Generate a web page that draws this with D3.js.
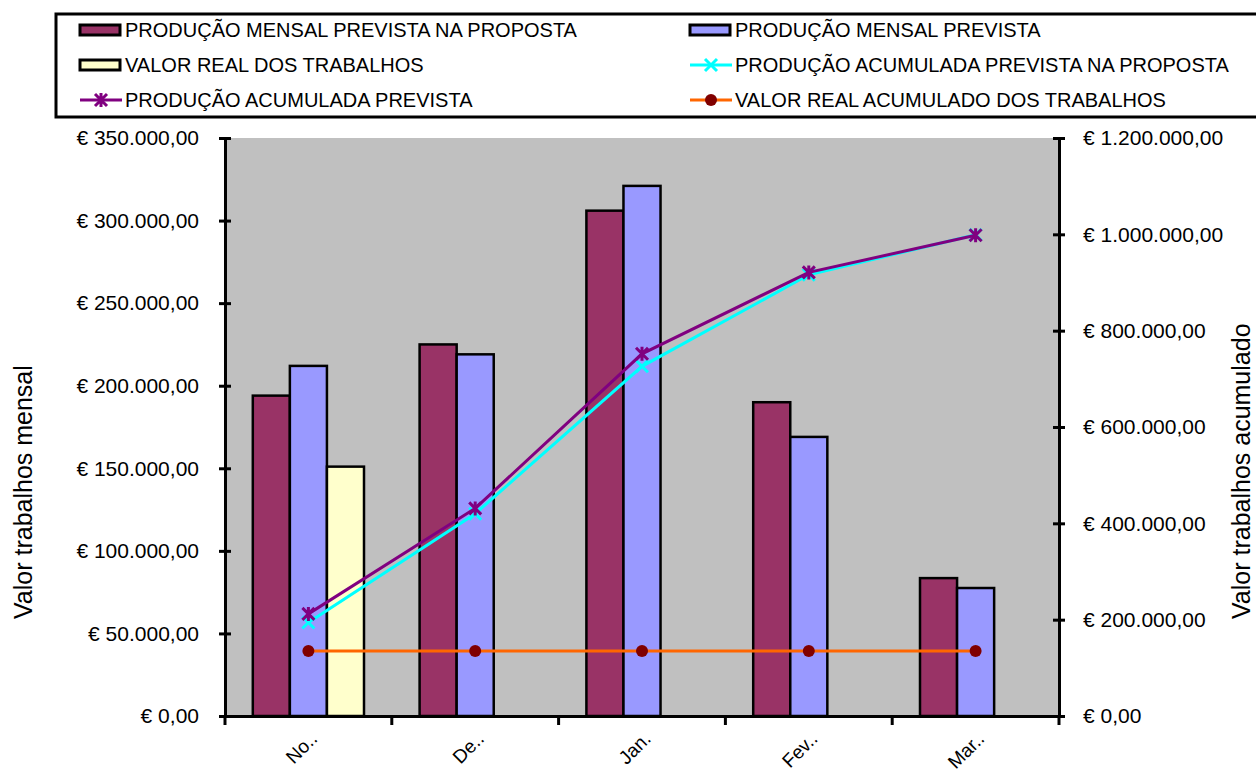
<!DOCTYPE html>
<html lang="pt">
<head>
<meta charset="utf-8">
<script src="https://cdn.jsdelivr.net/npm/d3@7"></script>
<style>
  html, body { margin: 0; padding: 0; background: #fff; }
  svg { display: block; font-family: "Liberation Sans", Arial, sans-serif; }
</style>
</head>
<body>
<svg id="chart" width="1256" height="774"></svg>
<script>
// Dados
const MESES = ["No..", "De..", "Jan.", "Fev..", "Mar.."];
const MENSAL_PROPOSTA = [194000, 225000, 306000, 190000, 83500];
const MENSAL_PREVISTA = [212000, 219000, 321000, 169000, 77500];
const VALOR_REAL = [151000, null, null, null, null];
const ACUM_PROPOSTA = [194000, 420000, 726000, 916000, 999000];
const ACUM_PREVISTA = [212000, 431000, 752000, 921000, 998000];
const ACUM_REAL = [135000, 135000, 135000, 135000, 135000];
const TICKS_ESQ = [0, 50000, 100000, 150000, 200000, 250000, 300000, 350000];
const TICKS_DIR = [0, 200000, 400000, 600000, 800000, 1000000, 1200000];

const layout = {
  left: 225, right: 1059, top: 138, bottom: 716,
  tickFont: 21, legendFont: 20, titleFont: 25
};

const svg = d3.select("#chart");

// Formato monetário português: € 350.000,00
const loc = d3.formatLocale({
  decimal: ",", thousands: ".", grouping: [3], currency: ["€ ", ""]
});
const fmt = loc.format("$,.2f");

// Escalas
const x0 = d3.scaleBand()
  .domain(MESES)
  .range([layout.left, layout.right])
  .paddingInner(1 / 3)
  .paddingOuter(1 / 6);

const barras = [
  { nome: "PRODUÇÃO MENSAL PREVISTA NA PROPOSTA", valores: MENSAL_PROPOSTA, cor: "#993366" },
  { nome: "PRODUÇÃO MENSAL PREVISTA", valores: MENSAL_PREVISTA, cor: "#9999FF" },
  { nome: "VALOR REAL DOS TRABALHOS", valores: VALOR_REAL, cor: "#FFFFCC" }
];

const x1 = d3.scaleBand()
  .domain(d3.range(barras.length))
  .range([0, x0.bandwidth()]);

const yEsq = d3.scaleLinear().domain([0, 350000]).range([layout.bottom, layout.top]);
const yDir = d3.scaleLinear().domain([0, 1200000]).range([layout.bottom, layout.top]);

const linhas = [
  { nome: "PRODUÇÃO ACUMULADA PREVISTA NA PROPOSTA", valores: ACUM_PROPOSTA, cor: "#00FFFF", marca: "x" },
  { nome: "PRODUÇÃO ACUMULADA PREVISTA", valores: ACUM_PREVISTA, cor: "#800080", marca: "asterisco" },
  { nome: "VALOR REAL ACUMULADO DOS TRABALHOS", valores: ACUM_REAL, cor: "#FF6600", marca: "circulo" }
];

// Fundo da área de plotagem
svg.append("rect")
  .attr("x", layout.left)
  .attr("y", layout.top)
  .attr("width", layout.right - layout.left)
  .attr("height", layout.bottom - layout.top)
  .attr("fill", "#C0C0C0");

// Barras
const gBarras = svg.append("g");
barras.forEach((s, i) => {
  gBarras.selectAll(null)
    .data(MESES.map((m, j) => ({ m, v: s.valores[j] })).filter(d => d.v != null))
    .join("rect")
    .attr("x", d => x0(d.m) + x1(i))
    .attr("y", d => yEsq(d.v))
    .attr("width", x1.bandwidth())
    .attr("height", d => yEsq(0) - yEsq(d.v))
    .attr("fill", s.cor)
    .attr("stroke", "#000")
    .attr("stroke-width", 2.5);
});

/**
 * Desenha um marcador no ponto (cx, cy)
 */
function desenharMarca(g, tipo, cx, cy, cor) {
  const r = 6;
  if (tipo === "circulo") {
    g.append("circle").attr("cx", cx).attr("cy", cy).attr("r", r)
      .attr("fill", "#800000");
    return;
  }
  const p = d3.path();
  p.moveTo(cx - r, cy - r); p.lineTo(cx + r, cy + r);
  p.moveTo(cx - r, cy + r); p.lineTo(cx + r, cy - r);
  if (tipo === "asterisco") {
    p.moveTo(cx, cy - r - 1); p.lineTo(cx, cy + r + 1);
  }
  g.append("path").attr("d", p.toString())
    .attr("stroke", cor).attr("stroke-width", 3).attr("fill", "none");
}

// Linhas acumuladas
const cx = m => x0(m) + x0.bandwidth() / 2;
const gLinhas = svg.append("g");
linhas.forEach(s => {
  const line = d3.line()
    .x((d, j) => cx(MESES[j]))
    .y(d => yDir(d));
  gLinhas.append("path")
    .datum(s.valores)
    .attr("d", line)
    .attr("fill", "none")
    .attr("stroke", s.cor)
    .attr("stroke-width", 3);
  s.valores.forEach((v, j) => desenharMarca(gLinhas, s.marca, cx(MESES[j]), yDir(v), s.cor));
});

// Eixos
const eixoEsq = d3.axisLeft(yEsq).tickValues(TICKS_ESQ).tickFormat(fmt)
  .tickSizeInner(6).tickSizeOuter(0).tickPadding(20);
const gEsq = svg.append("g").attr("transform", `translate(${layout.left},0)`).call(eixoEsq);

const eixoDir = d3.axisRight(yDir).tickValues(TICKS_DIR).tickFormat(fmt)
  .tickSizeInner(6).tickSizeOuter(0).tickPadding(18);
const gDir = svg.append("g").attr("transform", `translate(${layout.right},0)`).call(eixoDir);

const eixoX = d3.axisBottom(x0).tickValues([]).tickSizeOuter(0);
const gX = svg.append("g").attr("transform", `translate(0,${layout.bottom})`).call(eixoX);

[gEsq, gDir, gX].forEach(g => {
  g.select(".domain").attr("stroke", "#000").attr("stroke-width", 3);
  g.selectAll(".tick line").attr("stroke", "#000").attr("stroke-width", 3);
  g.selectAll("text")
    .attr("fill", "#000")
    .style("font-size", `${layout.tickFont}px`)
    .style("font-family", "'Liberation Sans', Arial, sans-serif");
});
// ticks atravessando o eixo
gEsq.selectAll(".tick line").attr("x1", 6);
gDir.selectAll(".tick line").attr("x1", -6);

// Marcas de divisão das categorias no eixo x
const divisoes = MESES.map(m => x0(m) - x0.step() * x0.paddingInner() / 2)
  .map((v, i) => i === 0 ? layout.left : v)
  .concat([layout.right]);
gX.selectAll(".div")
  .data(divisoes)
  .join("line")
  .attr("x1", d => d).attr("x2", d => d)
  .attr("y1", 0).attr("y2", 9)
  .attr("stroke", "#000").attr("stroke-width", 3);

// Rótulos das categorias (rodados)
svg.append("g").selectAll("text")
  .data(MESES)
  .join("text")
  .attr("transform", d => `translate(${cx(d) + 10},${layout.bottom + 24}) rotate(-45)`)
  .attr("text-anchor", "end")
  .style("font-size", "19px")
  .text(d => d);

// Títulos dos eixos
svg.append("text")
  .attr("transform", `translate(32,619) rotate(-90)`)
  .style("font-size", `${layout.titleFont}px`)
  .text("Valor trabalhos mensal");
svg.append("text")
  .attr("transform", `translate(1250,619) rotate(-90)`)
  .style("font-size", `${layout.titleFont}px`)
  .text("Valor trabalhos acumulado");

// Legenda
const gLeg = svg.append("g");
gLeg.append("rect")
  .attr("x", 56).attr("y", 14)
  .attr("width", 1220).attr("height", 103)
  .attr("fill", "#fff").attr("stroke", "#000").attr("stroke-width", 3);

const itensLegenda = [
  { s: barras[0], tipo: "barra", col: 0, lin: 0 },
  { s: barras[1], tipo: "barra", col: 1, lin: 0 },
  { s: barras[2], tipo: "barra", col: 0, lin: 1 },
  { s: linhas[0], tipo: "linha", col: 1, lin: 1 },
  { s: linhas[1], tipo: "linha", col: 0, lin: 2 },
  { s: linhas[2], tipo: "linha", col: 1, lin: 2 }
];
const colX = [80, 690];
const linY = [30, 65, 100];
itensLegenda.forEach(it => {
  const x = colX[it.col], y = linY[it.lin];
  if (it.tipo === "barra") {
    gLeg.append("rect")
      .attr("x", x).attr("y", y - 5).attr("width", 40).attr("height", 10)
      .attr("fill", it.s.cor).attr("stroke", "#000").attr("stroke-width", 3);
  } else {
    gLeg.append("line")
      .attr("x1", x).attr("x2", x + 42).attr("y1", y).attr("y2", y)
      .attr("stroke", it.s.cor).attr("stroke-width", 3);
    desenharMarca(gLeg, it.s.marca, x + 21, y, it.s.cor);
  }
  gLeg.append("text")
    .attr("x", x + 45).attr("y", y)
    .attr("dy", "0.36em")
    .style("font-size", `${layout.legendFont}px`)
    .text(it.s.nome);
});
</script>
</body>
</html>
